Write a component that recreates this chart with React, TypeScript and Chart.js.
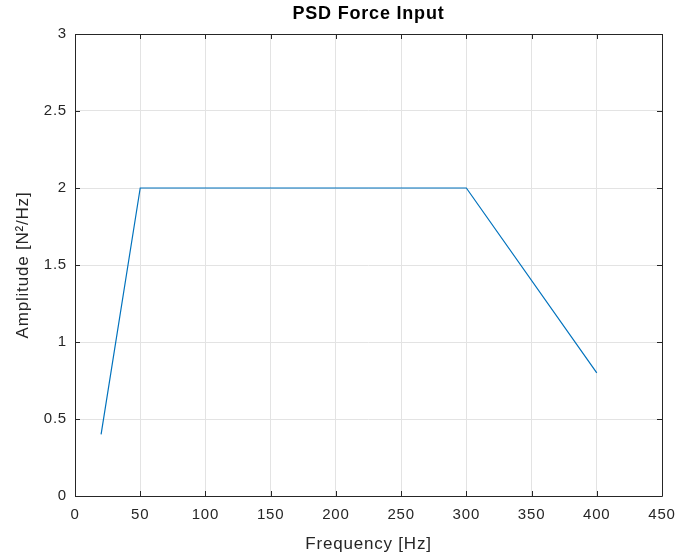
import React, { useEffect, useRef } from "react";
import { Chart, registerables } from "chart.js";

Chart.register(...registerables);

const frequencies: number[] = [20, 50, 300, 400];
const amplitudes: number[] = [0.4, 2, 2, 0.8];
const xTicks: number[] = [0, 50, 100, 150, 200, 250, 300, 350, 400, 450];
const yTicks: number[] = [0, 0.5, 1, 1.5, 2, 2.5, 3];
const titleText = "PSD Force Input";
const xLabel = "Frequency [Hz]";
const yLabel = "Amplitude [N\u00B2/Hz]";

const AX = "#262626";
const FONT = "'Liberation Sans', Arial, Helvetica, sans-serif";

const spacingPlugin = {
  id: "spacing",
  beforeDraw(chart: any) {
    try {
      chart.ctx.letterSpacing = "0.8px";
    } catch (e) {}
  },
};

const boxPlugin = {
  id: "matlabBox",
  afterDatasetsDraw(chart: any) {
    const { ctx, chartArea: a, scales } = chart;
    const xs = scales.x;
    const ys = scales.y;
    ctx.save();
    ctx.strokeStyle = AX;
    ctx.lineWidth = 1;
    ctx.beginPath();
    ctx.rect(Math.round(a.left) + 0.5, Math.round(a.top) + 0.5, Math.round(a.right - a.left), Math.round(a.bottom - a.top));
    ctx.stroke();
    const tl = 5;
    ctx.beginPath();
    for (const v of xTicks) {
      const px = Math.round(xs.getPixelForValue(v)) + 0.5;
      ctx.moveTo(px, a.bottom);
      ctx.lineTo(px, a.bottom - tl);
      ctx.moveTo(px, a.top);
      ctx.lineTo(px, a.top + tl);
    }
    for (const v of yTicks) {
      const py = Math.round(ys.getPixelForValue(v)) + 0.5;
      ctx.moveTo(a.left, py);
      ctx.lineTo(a.left + tl, py);
      ctx.moveTo(a.right, py);
      ctx.lineTo(a.right - tl, py);
    }
    ctx.stroke();
    ctx.fillStyle = "#000";
    ctx.font = `bold 18px ${FONT}`;
    ctx.textAlign = "center";
    ctx.textBaseline = "middle";
    ctx.fillText(titleText, (a.left + a.right) / 2, 14);
    ctx.restore();
  },
};

export default function App() {
  const ref = useRef<HTMLCanvasElement | null>(null);
  useEffect(() => {
    document.body.style.margin = "0";
    const canvas = ref.current;
    if (!canvas) return;
    const chart = new Chart(canvas, {
      type: "scatter",
      data: {
        datasets: [
          {
            data: frequencies.map((f, i) => ({ x: f, y: amplitudes[i] })),
            showLine: true,
            borderColor: "#0072BD",
            backgroundColor: "#0072BD",
            borderWidth: 1.2,
            pointRadius: 0,
            fill: false,
          },
        ],
      },
      options: {
        responsive: false,
        animation: false,
        layout: { padding: { top: 34, right: 15, left: 0, bottom: 0 } },
        plugins: { legend: { display: false }, tooltip: { enabled: false }, title: { display: false } },
        scales: {
          x: {
            type: "linear",
            min: 0,
            max: 450,
            afterBuildTicks: (s: any) => {
              s.ticks = xTicks.map((v) => ({ value: v }));
            },
            afterFit: (s: any) => {
              s.height = 63;
              s.paddingRight = 0;
              s.paddingLeft = 0;
            },
            grid: { color: "#e3e3e3", drawTicks: false, lineWidth: 1 },
            border: { display: false },
            ticks: { color: AX, font: { family: FONT, size: 15 }, padding: 10, maxRotation: 0, autoSkip: false, callback: (v: any) => String(v) },
            title: { display: true, text: xLabel, color: AX, font: { family: FONT, size: 17 }, padding: { top: 0, bottom: 4 } },
          },
          y: {
            type: "linear",
            min: 0,
            max: 3,
            afterBuildTicks: (s: any) => {
              s.ticks = yTicks.map((v) => ({ value: v }));
            },
            afterFit: (s: any) => {
              s.width = 75;
              s.paddingTop = 0;
              s.paddingBottom = 0;
            },
            grid: { color: "#e3e3e3", drawTicks: false, lineWidth: 1 },
            border: { display: false },
            ticks: { color: AX, font: { family: FONT, size: 15 }, padding: 8, autoSkip: false, callback: (v: any) => String(v) },
            title: { display: true, text: yLabel, color: AX, font: { family: FONT, size: 17 }, padding: { top: 13, bottom: 0 } },
          },
        },
      },
      plugins: [spacingPlugin, boxPlugin],
    } as any);
    return () => chart.destroy();
  }, []);
  return (
    <div style={{ position: "absolute", left: 0, top: 0, width: 677, height: 559, background: "#fff" }}>
      <canvas ref={ref} width={677} height={559} style={{ display: "block" }} />
    </div>
  );
}
